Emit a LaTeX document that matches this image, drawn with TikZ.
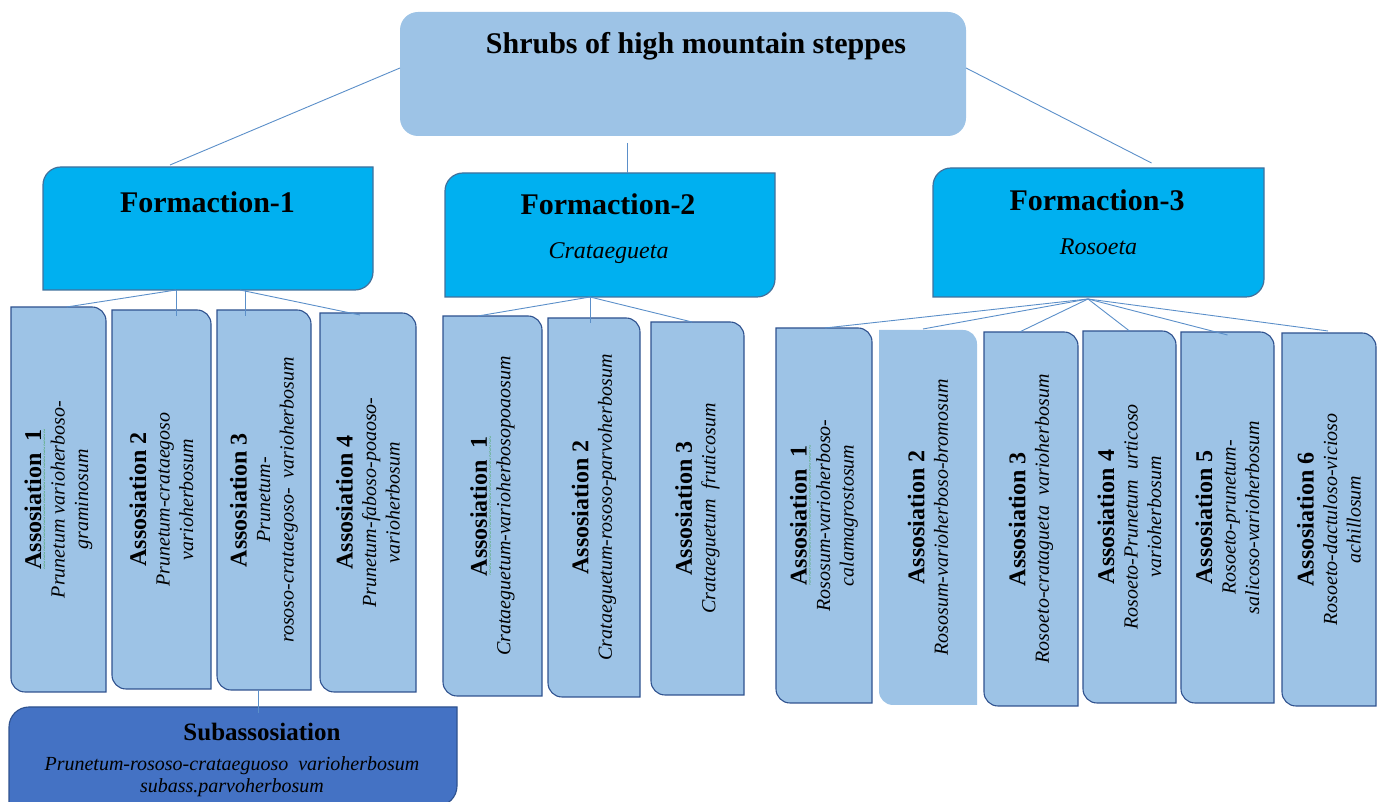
\documentclass[tikz,border=0pt]{standalone}
\usepackage{fontspec}
\setmainfont{Liberation Serif}
\usetikzlibrary{backgrounds}
\definecolor{topfill}{HTML}{9DC3E6}
\definecolor{formfill}{HTML}{00B0F0}
\definecolor{formline}{HTML}{41719C}
\definecolor{assocfill}{HTML}{9DC3E6}
\definecolor{assocline}{HTML}{2F528F}
\definecolor{subfill}{HTML}{4472C4}
\definecolor{connline}{HTML}{5B8FC9}
\definecolor{wavegreen}{HTML}{3FA34D}
\newcommand\gwave[1]{\setbox0\hbox{#1}\rlap{\color{wavegreen}\raisebox{-6pt}{\hbox to \wd0{\fontsize{8}{8}\selectfont\upshape\mdseries\xleaders\hbox{\char`\~}\hfill}}}\box0}
\newcommand\abold[1]{{\fontsize{24}{28}\selectfont\bfseries\upshape #1}}
% rounded top-left and bottom-right
\newcommand\shapeTLBR[3]{%
  \path[#3] ([xshift=#2]#1.north west) -- (#1.north east) -- ([yshift=#2]#1.south east)
    arc[start angle=0,end angle=-90,radius=#2] -- (#1.south west) -- ([yshift=-#2]#1.north west)
    arc[start angle=180,end angle=90,radius=#2] -- cycle;}
% rounded top-right and bottom-left
\newcommand\shapeTRBL[3]{%
  \path[#3] (#1.north west) -- ([xshift=-#2]#1.north east)
    arc[start angle=90,end angle=0,radius=#2] -- (#1.south east) -- ([xshift=#2]#1.south west)
    arc[start angle=270,end angle=180,radius=#2] -- cycle;}
\begin{document}
\begin{tikzpicture}[x=1pt,y=1pt,
  region/.style 2 args={draw=none,inner sep=0pt,outer sep=0pt,minimum width=#1pt,minimum height=#2pt},
  topstyle/.style={fill=topfill},
  formstyle/.style={fill=formfill,draw=formline,line width=1.2pt},
  assocstyle/.style={fill=assocfill,draw=assocline,line width=1.1pt},
  assocsoft/.style={fill=assocfill},
  substyle/.style={fill=subfill,draw=assocline,line width=1.1pt},
  conn/.style={draw=connline,line width=0.9pt},
  bigbold/.style={inner sep=0pt,anchor=base,font=\fontsize{30}{36}\selectfont\bfseries},
  formital/.style={inner sep=0pt,anchor=base,font=\fontsize{24}{28}\selectfont\itshape},
  subbold/.style={inner sep=0pt,anchor=base,font=\fontsize{25}{30}\selectfont\bfseries},
  subital/.style={inner sep=0pt,anchor=base,font=\fontsize{20}{24}\selectfont\itshape},
  assoctxt/.style={rotate=90,align=center,inner sep=0pt,font=\fontsize{20}{23.5}\selectfont\itshape}
]
\useasboundingbox (0,0) rectangle (1381,802);
% box regions
\node[region={566}{124}] (top) at (683,728) {};
\node[region={330}{123}] (f1) at (208,573.5) {};
\node[region={330}{124}] (f2) at (610,567) {};
\node[region={331}{129}] (f3) at (1098.5,569.5) {};
\node[region={95}{385}] (a11) at (58.5,302.5) {};
\node[region={99}{379}] (a12) at (161.5,302.5) {};
\node[region={94}{380}] (a13) at (264,302) {};
\node[region={96}{379}] (a14) at (368,299.5) {};
\node[region={99}{380}] (a21) at (492.5,296) {};
\node[region={92}{379}] (a22) at (594,294.5) {};
\node[region={93}{373}] (a23) at (697.5,293.5) {};
\node[region={96}{375}] (a31) at (824,286.5) {};
\node[region={98}{375}] (a32) at (928,284.5) {};
\node[region={94}{374}] (a33) at (1031,283) {};
\node[region={93}{372}] (a34) at (1129.5,285) {};
\node[region={93}{371}] (a35) at (1227.5,284.5) {};
\node[region={94}{373}] (a36) at (1329,282.5) {};
\node[region={448}{99}] (sub) at (233,45.5) {};
\begin{pgfonlayer}{background}
  \path[topstyle,rounded corners=18pt] (top.south west) rectangle (top.north east);
  \shapeTLBR{f1}{18pt}{formstyle}
  \shapeTLBR{f2}{18pt}{formstyle}
  \shapeTLBR{f3}{18pt}{formstyle}
  \shapeTRBL{a11}{14pt}{assocstyle}
  \shapeTRBL{a12}{14pt}{assocstyle}
  \shapeTRBL{a13}{14pt}{assocstyle}
  \shapeTRBL{a14}{14pt}{assocstyle}
  \shapeTRBL{a21}{14pt}{assocstyle}
  \shapeTRBL{a22}{14pt}{assocstyle}
  \shapeTRBL{a23}{14pt}{assocstyle}
  \shapeTRBL{a31}{14pt}{assocstyle}
  \shapeTRBL{a32}{14pt}{assocsoft}
  \shapeTRBL{a33}{14pt}{assocstyle}
  \shapeTRBL{a34}{14pt}{assocstyle}
  \shapeTRBL{a35}{14pt}{assocstyle}
  \shapeTRBL{a36}{14pt}{assocstyle}
  \shapeTLBR{sub}{20pt}{substyle}
\end{pgfonlayer}
% texts
\node[bigbold] (ttitle) at ([xshift=13pt,yshift=20.7pt]top.center) {Shrubs of high mountain steppes};
\node[bigbold] (tf1) at ([xshift=-0.5pt,yshift=16pt]f1.center) {Formaction-1};
\node[bigbold] (tf2) at ([xshift=-2pt,yshift=20pt]f2.center) {Formaction-2};
\node[formital] (tf2i) at ([xshift=-1.5pt,yshift=-23.3pt]f2.center) {Crataegueta};
\node[bigbold] (tf3) at ([xshift=-1.5pt,yshift=21.8pt]f3.center) {Formaction-3};
\node[formital] (tf3i) at ([xshift=0pt,yshift=-22.5pt]f3.center) {Rosoeta};
\node[assoctxt] (t11) at (a11.center) {\abold{\gwave{Assosiation~~1}}\\Prunetum varioherboso-\\graminosum};
\node[assoctxt] (t12) at (a12.center) {\abold{Assosiation 2}\\Prunetum-crataegoso\\varioherbosum};
\node[assoctxt] (t13) at (a13.center) {\abold{Assosiation 3}\\Prunetum-\\rososo-crataegoso-~~varioherbosum};
\node[assoctxt] (t14) at (a14.center) {\abold{Assosiation 4}\\Prunetum-faboso-poaoso-\\varioherbosum};
\node[assoctxt] (t21) at (a21.center) {\abold{\gwave{Assosiation~~1}}\\Crataeguetum-varioherbosopoaosum};
\node[assoctxt] (t22) at (a22.center) {\abold{Assosiation 2}\\Crataeguetum-rososo-parvoherbosum};
\node[assoctxt] (t23) at (a23.center) {\abold{Assosiation 3}\\Crataeguetum~~fruticosum};
\node[assoctxt] (t31) at (a31.center) {\abold{\gwave{Assosiation~~1}}\\Rososum-varioherboso-\\calamagrostosum};
\node[assoctxt] (t32) at (a32.center) {\abold{Assosiation 2}\\Rososum-varioherboso-bromosum};
\node[assoctxt] (t33) at (a33.center) {\abold{Assosiation 3}\\Rosoeto-cratagueta~~varioherbosum};
\node[assoctxt] (t34) at (a34.center) {\abold{Assosiation 4}\\Rosoeto-Prunetum~~urticoso\\varioherbosum};
\node[assoctxt] (t35) at (a35.center) {\abold{Assosiation 5}\\Rosoeto-prunetum-\\salicoso-varioherbosum};
\node[assoctxt] (t36) at (a36.center) {\abold{Assosiation 6}\\Rosoeto-dactuloso-vicioso\\achillosum};
\node[subbold] (tsub) at ([xshift=29pt,yshift=-33.7pt]sub.north) {Subassosiation};
\node[subital] (tsub1) at ([xshift=-1pt,yshift=-64pt]sub.north) {Prunetum-rososo-crataeguoso~~varioherbosum};
\node[subital] (tsub2) at ([xshift=-1pt,yshift=-86pt]sub.north) {subass.parvoherbosum};
% connectors
\draw[conn] ([yshift=6pt]top.west) -- ([xshift=127pt,yshift=2pt]f1.north west);
\draw[conn] ([xshift=-56pt,yshift=-7pt]top.south) -- ([xshift=17pt]f2.north);
\draw[conn] ([yshift=6pt]top.east) -- ([xshift=218.5pt,yshift=5pt]f3.north west);
\draw[conn] ([xshift=-32pt]f1.south) -- ([xshift=55.7pt]a11.north west);
\draw[conn] ([xshift=-32pt]f1.south) -- ([xshift=14.5pt,yshift=-6pt]a12.north);
\draw[conn] ([xshift=37pt]f1.south) -- ([xshift=-19pt,yshift=-6pt]a13.north);
\draw[conn] ([xshift=32pt]f1.south) -- ([xshift=-8pt,yshift=-2pt]a14.north);
\draw[conn] ([xshift=-20pt]f2.south) -- ([xshift=-14.5pt]a21.north);
\draw[conn] ([xshift=-20pt]f2.south) -- ([xshift=-4pt,yshift=-5pt]a22.north);
\draw[conn] ([xshift=-20pt]f2.south) -- ([xshift=-5.5pt]a23.north);
\draw[conn] ([xshift=-10.5pt,yshift=-2pt]f3.south) -- ([xshift=1pt]a31.north);
\draw[conn] ([xshift=-10.5pt,yshift=-2pt]f3.south) -- ([xshift=-5pt,yshift=1pt]a32.north);
\draw[conn] ([xshift=-10.5pt,yshift=-2pt]f3.south) -- ([xshift=-11.5pt]a33.north);
\draw[conn] ([xshift=-10.5pt,yshift=-2pt]f3.south) -- (a34.north);
\draw[conn] ([xshift=-10.5pt,yshift=-2pt]f3.south) -- ([yshift=-3pt]a35.north);
\draw[conn] ([xshift=-10.5pt,yshift=-2pt]f3.south) -- ([xshift=-1pt,yshift=2pt]a36.north);
\draw[conn] ([xshift=-6pt]a13.south) -- ([xshift=25pt,yshift=-6pt]sub.north);
\end{tikzpicture}
\end{document}
